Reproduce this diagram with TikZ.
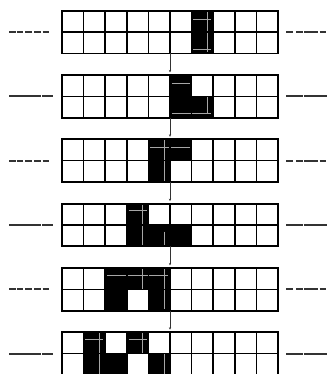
\documentclass[tikz,border=0pt]{standalone}
\usetikzlibrary{arrows.meta}
\begin{document}
\begin{tikzpicture}[x=1pt,y=-1pt,
  cellfill/.style={fill=black},
  gl/.style={draw=gray!70,line width=1.1pt},
  gridline/.style={draw=black,line width=1.5pt},
  outline/.style={draw=black,line width=1.9pt},
  side/.style={draw=black!80,line width=2pt},
  conn/.style={draw=black!80,line width=0.8pt,-{Stealth[length=2.5pt,width=2.2pt]}}]
\useasboundingbox (0,0) rectangle (328,374);
\newcommand\myblk[3]{\fill[cellfill] ({62+#2*21.6},{#1+#3*21.4}) rectangle ++(21.6,21.4);}
\newcommand\myh[4]{\draw[gl] ({62+#2*21.6+1.8},{#1+#4}) -- ({62+(#3+1)*21.6-1.8},{#1+#4});}
\newcommand\myv[4]{\draw[gl] ({62+(#2+1)*21.6-5.5},{#1+#3}) -- ({62+(#2+1)*21.6-5.5},{#1+#4});}
% black cells
\myblk{10.7}{6}{0}\myblk{10.7}{6}{1}
\myblk{75}{5}{0}\myblk{75}{5}{1}\myblk{75}{6}{1}
\myblk{139.3}{4}{0}\myblk{139.3}{4}{1}\myblk{139.3}{5}{0}
\myblk{203.6}{3}{0}\myblk{203.6}{3}{1}\myblk{203.6}{4}{1}\myblk{203.6}{5}{1}
\myblk{267.9}{2}{0}\myblk{267.9}{2}{1}\myblk{267.9}{3}{0}\myblk{267.9}{4}{0}\myblk{267.9}{4}{1}
\myblk{332.2}{1}{0}\myblk{332.2}{1}{1}\myblk{332.2}{2}{1}\myblk{332.2}{3}{0}\myblk{332.2}{4}{1}
% grey traces
\myh{10.7}{6}{6}{9}\myh{10.7}{6}{6}{38.6}\myv{10.7}{6}{1.2}{41.5}
\myh{75}{5}{5}{8.3}\myh{75}{5}{6}{38.3}\myv{75}{6}{21.6}{38.3}
\myh{139.3}{4}{5}{8.4}\myv{139.3}{4}{1.2}{41.5}
\myh{203.6}{3}{3}{7.3}\myv{203.6}{3}{1.2}{41.5}\myv{203.6}{4}{28}{41.5}
\myh{267.9}{2}{4}{7.8}\myv{267.9}{3}{1.2}{21.4}\myv{267.9}{4}{1.2}{41.5}
\myh{332.2}{1}{1}{7.3}\myh{332.2}{3}{3}{7.3}\myv{332.2}{1}{1.2}{41.5}\myv{332.2}{3}{1.2}{21.4}\myv{332.2}{4}{21.4}{41.5}
% grids
\foreach \t in {10.7,75,139.3,203.6,267.9,332.2}{
  \foreach \c in {1,...,9}{\draw[gridline] ({62+\c*21.6},\t) -- ({62+\c*21.6},{\t+42.8});}
  \draw[gridline] (62,{\t+21.4}) -- (278,{\t+21.4});
  \draw[outline] (62,\t) rectangle (278,{\t+42.8});
}
% connectors
\foreach \t/\n in {10.7/75,75/139.3,139.3/203.6,203.6/267.9,267.9/332.2}{
  \coordinate (a) at (170,{\t+42.8});
  \coordinate (b) at (170,{\n-2.5});
  \draw[conn] (a) -- (b);
}
% side lines, dashed (odd rows)
\foreach \t in {10.7,139.3,267.9}{
  \pgfmathsetmacro\m{\t+21.4}
  \foreach \p/\q in {9/15.7,16.7/23.3,25/31.7,34.3/40.7,42.7/49.3,286.3/293,296.3/303,304/310.7,311.3/318,319.7/326.3}{
    \draw[side] (\p,\m) -- (\q,\m);}
}
% side lines, solid (even rows)
\foreach \t in {75,203.6,332.2}{
  \pgfmathsetmacro\m{\t+21.4}
  \foreach \p/\q in {9/41.2,42.2/53.3,286/302.5,303.5/327}{
    \draw[side] (\p,\m) -- (\q,\m);}
}
\end{tikzpicture}
\end{document}
